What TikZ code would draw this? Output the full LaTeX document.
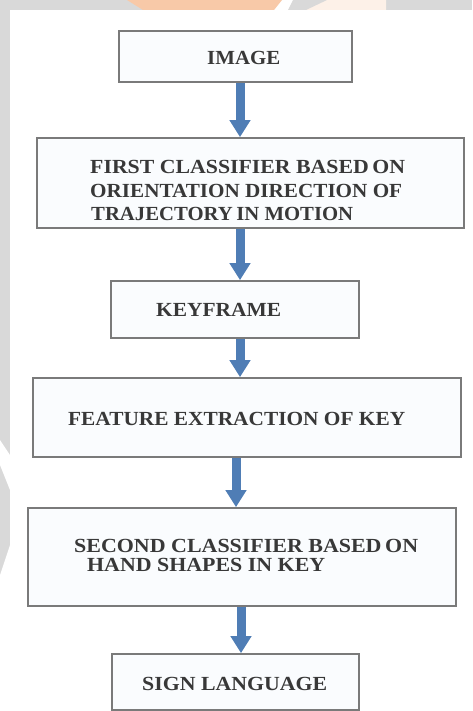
\documentclass[tikz,border=0pt]{standalone}
\usepackage{fontspec}
\setmainfont{Liberation Serif}
\usetikzlibrary{arrows.meta}
\definecolor{bg}{HTML}{D9D9D9}
\definecolor{boxline}{HTML}{7A7A7A}
\definecolor{txt}{HTML}{383838}
\definecolor{arr}{HTML}{4F7DB5}
\definecolor{wmorange}{HTML}{F8C9A8}
\definecolor{wmpeach}{HTML}{FDF1E8}
\definecolor{boxfill}{HTML}{FAFCFE}
\newcommand{\fitw}[2]{\resizebox{#1pt}{\height}{#2}}
\begin{document}
\begin{tikzpicture}[x=1pt,y=-1pt,
  box/.style={draw=boxline, line width=1.7pt, fill=boxfill, inner sep=0pt},
  lbl/.style={font=\fontsize{20}{20}\selectfont\bfseries, text=txt, inner sep=0pt, anchor=base west},
  conn/.style={draw=arr, line width=9pt, -{Triangle[width=20pt,length=17pt]}}]
% background and watermark
\fill[bg] (0,0) rectangle (472,711);
\fill[white] (10,10) rectangle (472,711);
\fill[wmpeach] (280,0) -- (386,0) -- (386,10) -- (272,10) -- cycle;
\fill[white] (280,0) -- (294,0) -- (288,10) -- (272,10) -- cycle;
\fill[wmorange] (127,0) -- (282,0) -- (274,10) -- (143,10) -- cycle;
\fill[bg] (293,0) -- (327,0) -- (306,10) -- (288,10) -- cycle;
\fill[white] (0,440) -- (10,455) -- (10,490) -- (0,465) -- cycle;
\fill[white] (0,575) -- (10,545) -- (10,711) -- (0,711) -- cycle;
% boxes
\node[box, minimum width=233pt, minimum height=51pt] (b1) at (235.5,56.5) {};
\node[box, minimum width=427pt, minimum height=90pt] (b2) at (250.5,183) {};
\node[box, minimum width=248pt, minimum height=57pt] (b3) at (235,309.5) {};
\node[box, minimum width=428pt, minimum height=79pt] (b4) at (247,417.5) {};
\node[box, minimum width=428pt, minimum height=98pt] (b5) at (242,557) {};
\node[box, minimum width=247pt, minimum height=56pt] (b6) at (235.5,682) {};
% texts
\node[lbl] (t1) at (207,64.5) {\fitw{73}{IMAGE}};
\node[lbl] (t2a) at (90,174) {\fitw{315}{FIRST CLASSIFIER BASED\,ON}};
\node[lbl] (t2b) at (90,197) {\fitw{312}{ORIENTATION DIRECTION OF}};
\node[lbl] (t2c) at (91,220) {\fitw{262}{TRAJECTORY\,IN MOTION}};
\node[lbl] (t3) at (156,316) {\fitw{125}{KEYFRAME}};
\node[lbl] (t4) at (68,425) {\fitw{337}{FEATURE EXTRACTION OF KEY}};
\node[lbl] (t5a) at (74,552.5) {\fitw{344}{SECOND CLASSIFIER BASED\,ON}};
\node[lbl] (t5b) at (87,571) {\fitw{238}{HAND SHAPES IN KEY}};
\node[lbl] (t6) at (142,690) {\fitw{185}{SIGN LANGUAGE}};
% arrow columns
\coordinate (ax1) at (240,0);
\coordinate (ax2) at (240,0);
\coordinate (ax3) at (240,0);
\coordinate (ax4) at (236,0);
\coordinate (ax5) at (241,0);
\draw[conn] (b1.south -| ax1) -- (b2.north -| ax1);
\draw[conn] (b2.south -| ax2) -- (b3.north -| ax2);
\draw[conn] (b3.south -| ax3) -- (b4.north -| ax3);
\draw[conn] (b4.south -| ax4) -- (b5.north -| ax4);
\draw[conn] (b5.south -| ax5) -- (b6.north -| ax5);
\end{tikzpicture}
\end{document}
